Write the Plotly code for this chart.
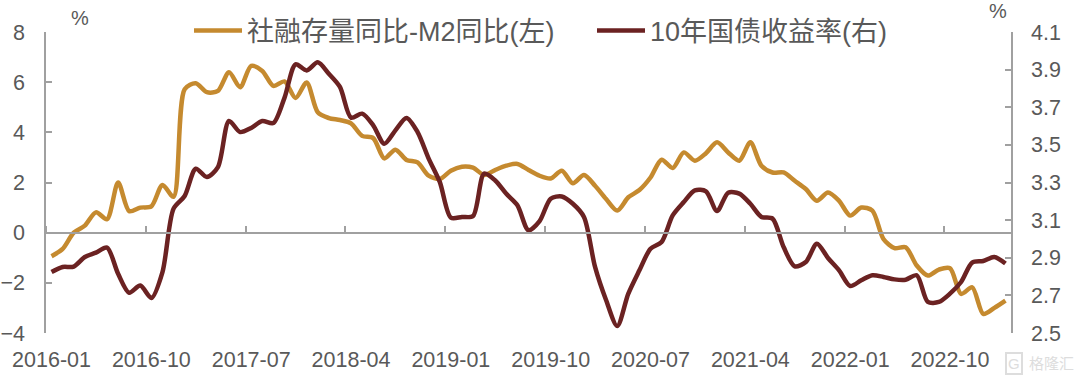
import plotly.graph_objects as go
import pandas as pd

months = [d.strftime("%Y-%m") for d in pd.date_range("2016-01-01", periods=87, freq="MS")]
tick_labels = months[::9]

tsf_m2_gap = [-0.94,-0.65,0.0,0.28,0.81,0.54,2.0,0.86,1.0,1.05,1.9,1.43,5.72,5.96,5.6,5.65,6.4,5.8,6.65,6.45,5.85,6.03,
              5.37,5.99,4.8,4.57,4.49,4.36,3.86,3.77,2.96,3.31,2.9,2.8,2.27,2.14,2.47,2.63,2.59,2.3,2.5,2.67,2.74,2.5,
              2.27,2.16,2.47,1.97,2.3,1.87,1.34,0.88,1.41,1.7,2.2,2.91,2.58,3.2,2.87,3.17,3.6,3.2,2.87,3.6,2.67,2.4,
              2.4,2.07,1.74,1.27,1.6,1.27,0.68,1.0,0.88,-0.25,-0.62,-0.58,-1.31,-1.71,-1.47,-1.42,-2.44,-2.18,-3.24,-3.0,-2.71]
cgb_10y = [2.824,2.851,2.853,2.904,2.927,2.954,2.815,2.714,2.752,2.686,2.824,3.161,3.228,3.373,3.329,3.382,3.627,3.568,3.59,3.627,3.616,3.75,
           3.928,3.896,3.939,3.878,3.808,3.645,3.666,3.604,3.506,3.577,3.643,3.568,3.427,3.303,3.113,3.117,3.122,3.347,3.311,3.24,3.179,3.046,
           3.095,3.214,3.226,3.187,3.117,2.851,2.674,2.537,2.709,2.833,2.948,2.984,3.125,3.196,3.258,3.253,3.148,3.246,3.241,3.187,3.117,3.108,
           2.957,2.854,2.877,2.975,2.899,2.833,2.75,2.78,2.807,2.798,2.785,2.783,2.807,2.665,2.665,2.709,2.771,2.874,2.883,2.904,2.869]

name_left = "社融存量同比-M2同比(左)"
name_right = "10年国债收益率(右)"
ORANGE = "#C58A2F"
DARK = "#6B2222"
AXIS = "#A0A0A0"
TEXT = "#595959"
MARK = "#DDDDDD"
FONT = "Liberation Sans, Arial, Noto Sans CJK SC, sans-serif"

W, H = 1080, 380
L, R, T, B = 46, 1011, 32, 333
pw, ph = R-L, B-T

fig = go.Figure()
fig.add_trace(go.Scatter(x=months, y=tsf_m2_gap, name=name_left, mode="lines", xaxis="x", yaxis="y",
                         line=dict(color=ORANGE, width=4.5, shape="spline", smoothing=0.8)))
fig.add_trace(go.Scatter(x=months, y=cgb_10y, name=name_right, mode="lines", xaxis="x2", yaxis="y2",
                         line=dict(color=DARK, width=4.5, shape="spline", smoothing=0.8)))

fig.update_layout(
    width=W, height=H, paper_bgcolor="white", plot_bgcolor="white",
    margin=dict(l=L, r=W-R, t=T, b=H-B, autoexpand=False),
    font=dict(family=FONT, size=21.5, color=TEXT),
    xaxis=dict(type="category", categoryorder="array", categoryarray=months, range=[-0.5, 86.5],
               tickmode="array", tickvals=tick_labels, ticktext=tick_labels, ticks="",
               showline=False, showgrid=False, zeroline=False, ticklabelstandoff=11, tickangle=0,
               tickfont=dict(size=21.5, color=TEXT)),
    xaxis2=dict(type="category", categoryorder="array", categoryarray=months, range=[-0.5, 86.5],
                overlaying="x", anchor="free", position=1/3, side="top", tickson="boundaries",
                tickmode="linear", tick0=0, dtick=9, ticks="outside", ticklen=6, tickwidth=1.5, tickcolor=AXIS,
                showticklabels=False, showline=True, linecolor=AXIS, linewidth=1.5, showgrid=False, zeroline=False),
    yaxis=dict(range=[-4, 8], tickvals=[-4,-2,0,2,4,6,8], ticks="inside", ticklen=6, tickwidth=1.5, tickcolor=AXIS,
               showline=True, linecolor=AXIS, linewidth=1.5, showgrid=False, zeroline=False,
               ticklabelstandoff=15, tickfont=dict(size=21.5, color=TEXT)),
    yaxis2=dict(range=[2.5, 4.1], overlaying="y", side="right", anchor="x", tickvals=[2.5,2.7,2.9,3.1,3.3,3.5,3.7,3.9,4.1],
                ticktext=["2.5","2.7","2.9","3.1","3.3","3.5","3.7","3.9","4.1"], ticks="inside", ticklen=6, tickwidth=1.5, tickcolor=AXIS,
                showline=True, linecolor=AXIS, linewidth=1.5, showgrid=False, zeroline=False,
                ticklabelstandoff=14, tickfont=dict(size=21.5, color=TEXT)),
    legend=dict(orientation="h", x=189/W, xanchor="left", y=1-31/H, yanchor="middle", yref="container", xref="container",
                font=dict(size=27, color=TEXT), itemwidth=48, bgcolor="rgba(0,0,0,0)", tracegroupgap=0,
                entrywidth=340, entrywidthmode="pixels"),
)
def px(x): return (x-L)/pw
def py(y): return 1-(y-T)/ph
for txt, x, y, size, col in [("%", 80, 18, 20, TEXT), ("%", 998, 11, 20, TEXT), ("格隆汇", 1051, 364, 15, MARK)]:
    fig.add_annotation(text=txt, xref="paper", yref="paper", x=px(x), y=py(y), showarrow=False,
                       xanchor="center", yanchor="middle", font=dict(size=size, color=col))
fig.add_annotation(text="G", xref="paper", yref="paper", x=px(1014), y=py(364), showarrow=False,
                   xanchor="center", yanchor="middle", font=dict(size=15, color=MARK),
                   bordercolor=MARK, borderwidth=2, borderpad=1)

fig.write_html("out.html", config=dict(displayModeBar=False), post_script="document.body.style.margin='0';")
